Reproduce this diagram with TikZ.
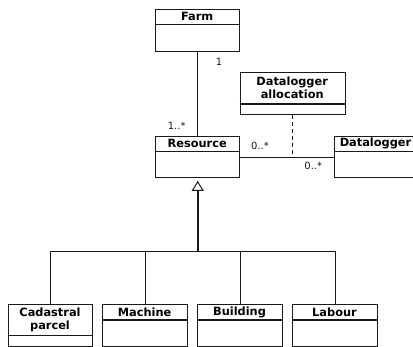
\documentclass[tikz,border=0pt]{standalone}
\usepackage{fontspec}
\setmainfont{DejaVu Sans}
\usetikzlibrary{arrows.meta}
\tikzset{
  classbox/.style={draw=black!90, line width=1.1bp, inner sep=0pt, anchor=north west},
  classname/.style={font=\fontsize{11.4}{12.8}\selectfont\bfseries, align=center, inner sep=0pt},
  divider/.style={draw=black!90, line width=1.1bp},
  conn/.style={draw=black!90, line width=1.1bp},
  genline/.style={draw=black!90, line width=1.9bp},
  mult/.style={font=\fontsize{10}{11}\selectfont, inner sep=0pt, text=black!90},
}
% \umlcls{name}{x1}{y1}{x2}{y2}{ydiv}{text}
\newcommand{\umlcls}[7]{%
  \node[classbox, minimum width={(#4-#2)*1bp}, minimum height={(#5-#3)*1bp}] (#1) at (#2,#3) {};
  \draw[divider] (#2,#6) -- (#4,#6);
  \node[classname] (#1-name) at ({(#2+#4)/2},{(#3+#6)/2}) {#7};
}
\begin{document}
\begin{tikzpicture}[x=1bp,y=-1bp]
\useasboundingbox (0,0) rectangle (413,347);
\umlcls{farm}{155}{9}{239.3}{51.3}{24.7}{Farm}
\umlcls{res}{155}{135.7}{239.3}{177.3}{151.7}{Resource}
\umlcls{alloc}{239.7}{72}{344.7}{114.3}{104}{Datalogger\\allocation}
\umlcls{dlog}{334.3}{135.7}{416.7}{177.3}{151.2}{Datalogger}
\umlcls{cad}{7.7}{304.3}{92.3}{345.7}{335.7}{Cadastral\\parcel}
\umlcls{mach}{102.3}{304.3}{187}{345.7}{320}{Machine}
\umlcls{build}{197.3}{304.3}{281.7}{345.7}{320}{Building}
\umlcls{lab}{292.3}{304.3}{376.7}{345.7}{320}{Labour}

% Farm - Resource
\draw[conn] (farm.south) -- (res.north);
\node[mult] (m1) at (219,62) {1};
\node[mult] (m2) at (176.7,126) {1..*};

% Resource - Datalogger
\draw[conn] (res.east) -- (dlog.west);
\coordinate (amid) at (alloc.south |- res.east);
\draw[conn, dash pattern=on 4bp off 3bp] (alloc.south) -- (amid);
\node[mult] (m3) at (260,145.7) {0..*};
\node[mult] (m4) at (313.3,166) {0..*};

% Generalization
\coordinate (j) at (res.south |- 0,251.7);
\draw[conn] (cad.north) -- (cad.north |- j) -- (lab.north |- j) -- (lab.north);
\draw[conn] (mach.north) -- (mach.north |- j);
\draw[conn] (build.north) -- (build.north |- j);
\draw[genline, -{Triangle[open, length=10bp, width=12bp, line width=1bp]}, shorten >=2.5bp] (j) -- (res.south);
\end{tikzpicture}
\end{document}
